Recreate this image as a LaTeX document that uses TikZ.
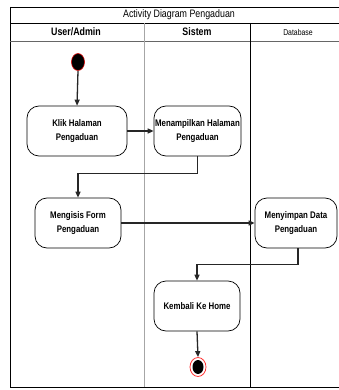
\documentclass[tikz,border=0pt]{standalone}
\usepackage{fontspec}
\setmainfont{Liberation Sans}[FakeStretch=0.82]
\usetikzlibrary{arrows.meta,shapes.geometric}
\begin{document}
\begin{tikzpicture}[x=1pt,y=-1pt,
  act/.style={draw=black,line width=0.7pt,rounded corners=12pt,minimum height=50pt,inner sep=0pt},
  acttext/.style={font=\bfseries\fontsize{9.6}{14.5}\selectfont,align=center},
  flow/.style={draw=black!85,line width=1.3pt,-{Triangle[length=6pt,width=5pt]}},
  lane/.style={line width=0.8pt}]
\useasboundingbox (0,0) rectangle (338,390);
\fill[white] (0,0) rectangle (338,390);
% frame
\draw[lane] (10,7) -- (345,7);
\draw[lane] (10,7) -- (10,387) -- (345,387);
\draw[lane] (10,23) -- (345,23);
\draw[lane,draw=black!60] (10,41) -- (345,41);
\draw[line width=0.6pt,draw=black!35] (144,23) -- (144,387);
\draw[line width=0.7pt] (250,23) -- (250,387);
\node[font=\fontsize{10.8}{12}\selectfont] (title) at (179,15) {Activity Diagram Pengaduan};
\node[font=\bfseries\fontsize{10.8}{12}\selectfont] (h1) at (76,32) {User/Admin};
\node[font=\bfseries\fontsize{10.8}{12}\selectfont] (h2) at (197,32) {Sistem};
\node[font=\fontsize{8.4}{9}\selectfont] (h3) at (298,32) {Database};
% start
\node[draw=red!85!black,fill=black,ellipse,minimum width=13pt,minimum height=17pt,inner sep=0pt,line width=0.6pt] (start) at (78,62) {};
% activities
\node[act,minimum width=100pt,label={[acttext]center:Klik Halaman\\Pengaduan}] (klik) at (77,131) {};
\node[act,minimum width=87pt,label={[acttext]center:Menampilkan Halaman\\Pengaduan}] (tampil) at (197.5,131) {};
\node[act,minimum width=86pt,label={[acttext]center:Mengisis Form\\Pengaduan}] (isi) at (78,223) {};
\node[act,minimum width=82pt,label={[acttext]center:Menyimpan Data\\Pengaduan}] (simpan) at (296,223) {};
\node[act,minimum width=86pt,label={[acttext]center:Kembali Ke Home}] (kembali) at (197,306) {};
% end
\node[draw=red!80,line width=0.8pt,ellipse,minimum width=16pt,minimum height=19pt,inner sep=0pt] (endo) at (198,367) {};
\node[fill=black,ellipse,minimum width=11pt,minimum height=14pt,inner sep=0pt] (endi) at (198,367) {};
% flows
\draw[flow] (start.south) -- (klik.north);
\draw[flow] (klik.east) -- (tampil.west);
\draw[flow] (tampil.south) -- ++(0,17) -| (isi.north);
\draw[flow] (isi.east) -- (simpan.west);
\draw[flow] (simpan.south) ++(2,0) coordinate (s1) -- ++(0,16) -| (kembali.north);
\draw[flow] (kembali.south) -- (endo.north);
\end{tikzpicture}
\end{document}
